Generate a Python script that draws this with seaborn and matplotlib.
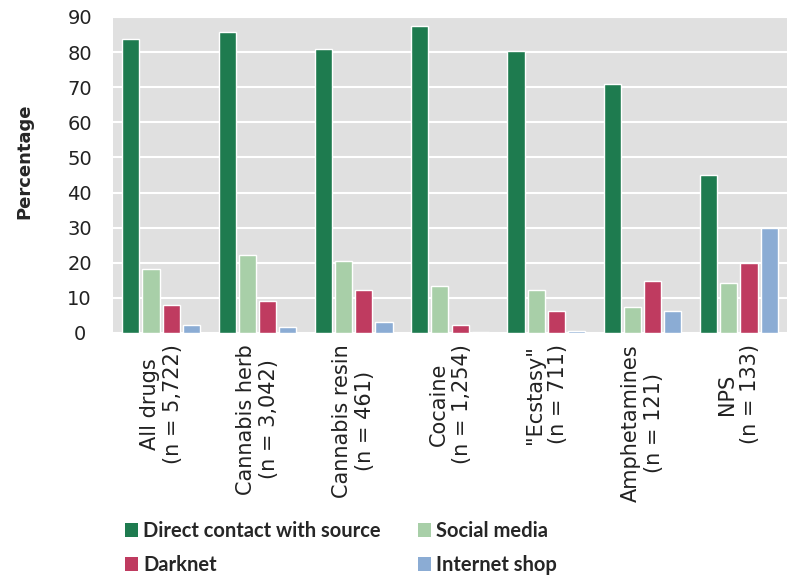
import os
import numpy as np
import pandas as pd
import matplotlib
matplotlib.use("Agg")
import matplotlib.pyplot as plt
import seaborn as sns
from matplotlib.patches import Patch
from matplotlib.font_manager import FontProperties

categories = ["All drugs\n(n = 5,722)", "Cannabis herb\n(n = 3,042)", "Cannabis resin\n(n = 461)",
              "Cocaine\n(n = 1,254)", "\"Ecstasy\"\n(n = 711)", "Amphetamines\n(n = 121)", "NPS\n(n = 133)"]
series = ["Direct contact with source", "Social media", "Darknet", "Internet shop"]
direct = [83.8, 85.8, 81.0, 87.3, 80.4, 70.8, 45.0]
social = [18.3, 22.1, 20.4, 13.5, 12.3, 7.4, 14.2]
darknet = [7.9, 9.0, 12.3, 2.3, 6.3, 14.7, 20.0]
internet = [2.3, 1.8, 3.2, 0.2, 0.5, 6.4, 29.9]
colors = ["#1e7b4f", "#a8cfa8", "#bf3b60", "#8bacd4"]

rows = []
for s, vals in zip(series, [direct, social, darknet, internet]):
    for c, v in zip(categories, vals):
        rows.append({"cat": c, "series": s, "value": v})
df = pd.DataFrame(rows)

sns.set_theme(style="white")
plt.rcParams['font.family'] = ['DejaVu Sans']

fdir = os.path.join(matplotlib.get_data_path(), 'fonts', 'ttf')
dv = os.path.join(fdir, 'DejaVuSans.ttf')
dvb = os.path.join(fdir, 'DejaVuSans-Bold.ttf')

fig = plt.figure(figsize=(7.91, 5.78), dpi=100)
ax = fig.add_axes([113/791, 1-333/578, 674/791, 316/578])
ax.set_facecolor("#e0e0e0")
sns.barplot(data=df, x="cat", y="value", hue="series", palette=colors,
            order=categories, hue_order=series, width=0.84, gap=0.15,
            saturation=1, ax=ax, legend=False)
ax.set_ylim(0, 90)
ax.set_xlim(-0.5, 6.5)
yt = list(range(0, 91, 10))
ax.set_yticks(yt)
ax.set_yticklabels([str(v) for v in yt], fontproperties=FontProperties(fname=dv, size=14),
                   ha='center', color="#222222")
ax.set_xticks(range(len(categories)))
ax.set_xticklabels(categories, fontproperties=FontProperties(fname=dv, size=15),
                   rotation=90, ha='center', va='top', multialignment='center', color="#222222")
ax.yaxis.grid(True, color="white", linewidth=1.5)
ax.set_axisbelow(True)
for sp in ax.spines.values():
    sp.set_visible(False)
ax.tick_params(axis='y', length=0, pad=24)
ax.tick_params(axis='x', length=0, pad=8)
ax.set_xlabel("")
ax.set_ylabel("Percentage", fontproperties=FontProperties(fname=dvb, size=13), labelpad=0)
ax.yaxis.set_label_coords(-(113-33)/674, 0.544)

handles = [Patch(facecolor=c, edgecolor='none') for c in colors]
order = [0, 2, 1, 3]
fig.legend([handles[i] for i in order], [series[i] for i in order],
           ncol=2, loc="upper left", bbox_to_anchor=(125/791, 1-521/578),
           frameon=False, prop={'family': 'Lato', 'weight': 'bold', 'size': 14.5},
           handlelength=0.65, handleheight=0.65, handletextpad=0.25,
           columnspacing=1.84, labelspacing=0.7, borderaxespad=0, borderpad=0)

fig.savefig("out.png", dpi=100)
